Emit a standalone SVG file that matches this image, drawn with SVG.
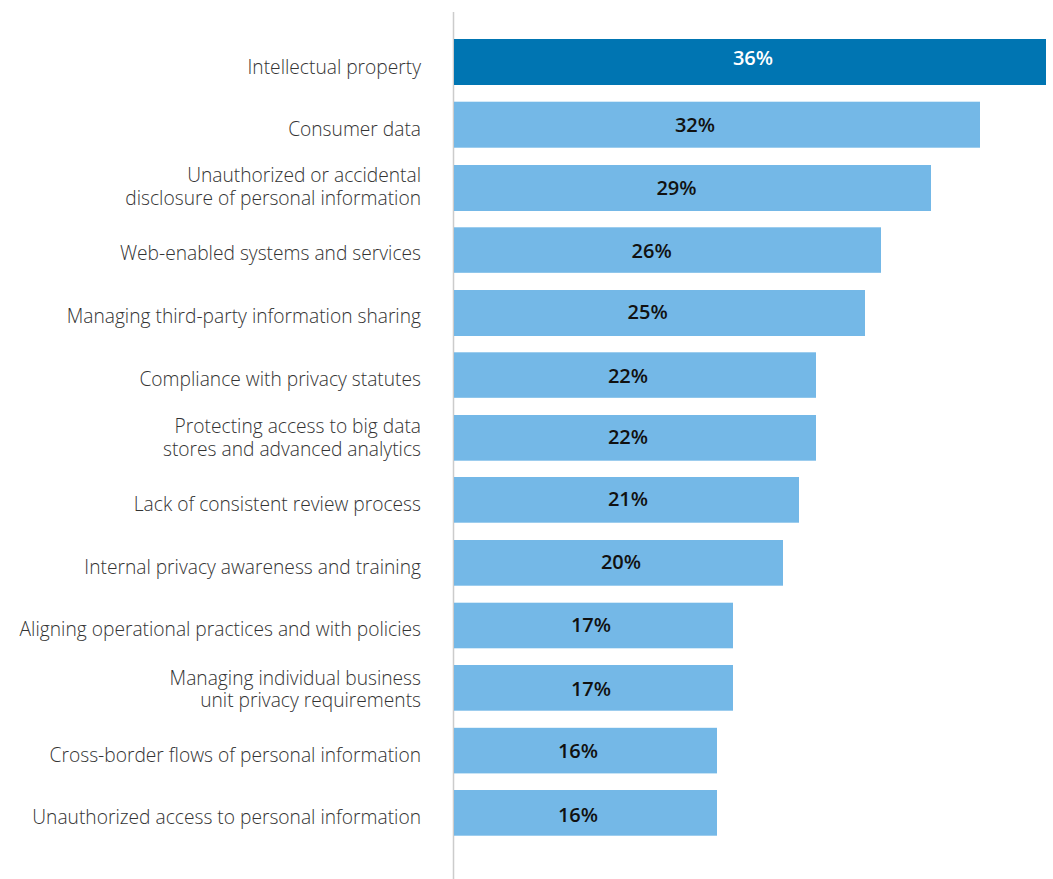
<svg xmlns="http://www.w3.org/2000/svg" width="1053" height="879" viewBox="0 0 1053 879">
<style>
.lbl{font-family:"Open Sans","Liberation Sans",sans-serif;font-size:19.2px;font-weight:300;fill:#333333;text-anchor:end}
.val{font-family:"Open Sans","Liberation Sans",sans-serif;font-size:20px;font-weight:600;fill:#111111;text-anchor:middle}
.valw{font-family:"Open Sans","Liberation Sans",sans-serif;font-size:20px;font-weight:600;fill:#ffffff;text-anchor:middle}
.bar{fill:#74b8e7}
.bard{fill:#0075b2}
</style>
<rect width="1053" height="879" fill="#ffffff"/>
<g id="axis"><line x1="453.5" y1="12" x2="453.5" y2="879" stroke="#cccccc" stroke-width="1.5"/></g>
<g id="r1"><rect class="bard" x="454" y="39" width="592" height="46"/><text class="valw" x="753" y="65">36%</text><text class="lbl" x="421" y="74.3">Intellectual property</text></g>
<g id="r2"><rect class="bar" x="454" y="101.7" width="526" height="46"/><text class="val" x="695" y="132">32%</text><text class="lbl" x="421" y="136">Consumer data</text></g>
<g id="r3"><rect class="bar" x="454" y="165" width="477" height="46"/><text class="val" x="676.5" y="195">29%</text><text class="lbl"><tspan x="421" y="182.3">Unauthorized or accidental</tspan><tspan x="421" y="205">disclosure of personal information</tspan></text></g>
<g id="r4"><rect class="bar" x="454" y="227.3" width="427" height="45.5"/><text class="val" x="651.7" y="258.3">26%</text><text class="lbl" x="421" y="260">Web-enabled systems and services</text></g>
<g id="r5"><rect class="bar" x="454" y="290" width="411" height="46"/><text class="val" x="647.7" y="319">25%</text><text class="lbl" x="421" y="323">Managing third-party information sharing</text></g>
<g id="r6"><rect class="bar" x="454" y="352.3" width="362" height="45.5"/><text class="val" x="628" y="383.3">22%</text><text class="lbl" x="421" y="386">Compliance with privacy statutes</text></g>
<g id="r7"><rect class="bar" x="454" y="415" width="362" height="45.7"/><text class="val" x="628" y="444.3">22%</text><text class="lbl"><tspan x="421" y="433">Protecting access to big data</tspan><tspan x="421" y="456">stores and advanced analytics</tspan></text></g>
<g id="r8"><rect class="bar" x="454" y="477" width="345" height="45.7"/><text class="val" x="628" y="506">21%</text><text class="lbl" x="421" y="511">Lack of consistent review process</text></g>
<g id="r9"><rect class="bar" x="454" y="540" width="329" height="45.7"/><text class="val" x="621" y="569.3">20%</text><text class="lbl" x="421" y="574">Internal privacy awareness and training</text></g>
<g id="r10"><rect class="bar" x="454" y="602.7" width="279" height="45.6"/><text class="val" x="591" y="631.7">17%</text><text class="lbl" x="421" y="636">Aligning operational practices and with policies</text></g>
<g id="r11"><rect class="bar" x="454" y="665" width="279" height="45.7"/><text class="val" x="591" y="696">17%</text><text class="lbl"><tspan x="421" y="685">Managing individual business</tspan><tspan x="421" y="707.3">unit privacy requirements</tspan></text></g>
<g id="r12"><rect class="bar" x="454" y="727.8" width="263" height="45.6"/><text class="val" x="578" y="758">16%</text><text class="lbl" x="421" y="761.7">Cross-border flows of personal information</text></g>
<g id="r13"><rect class="bar" x="454" y="790" width="263" height="45.7"/><text class="val" x="578" y="821.7">16%</text><text class="lbl" x="421" y="824.3">Unauthorized access to personal information</text></g>
</svg>
